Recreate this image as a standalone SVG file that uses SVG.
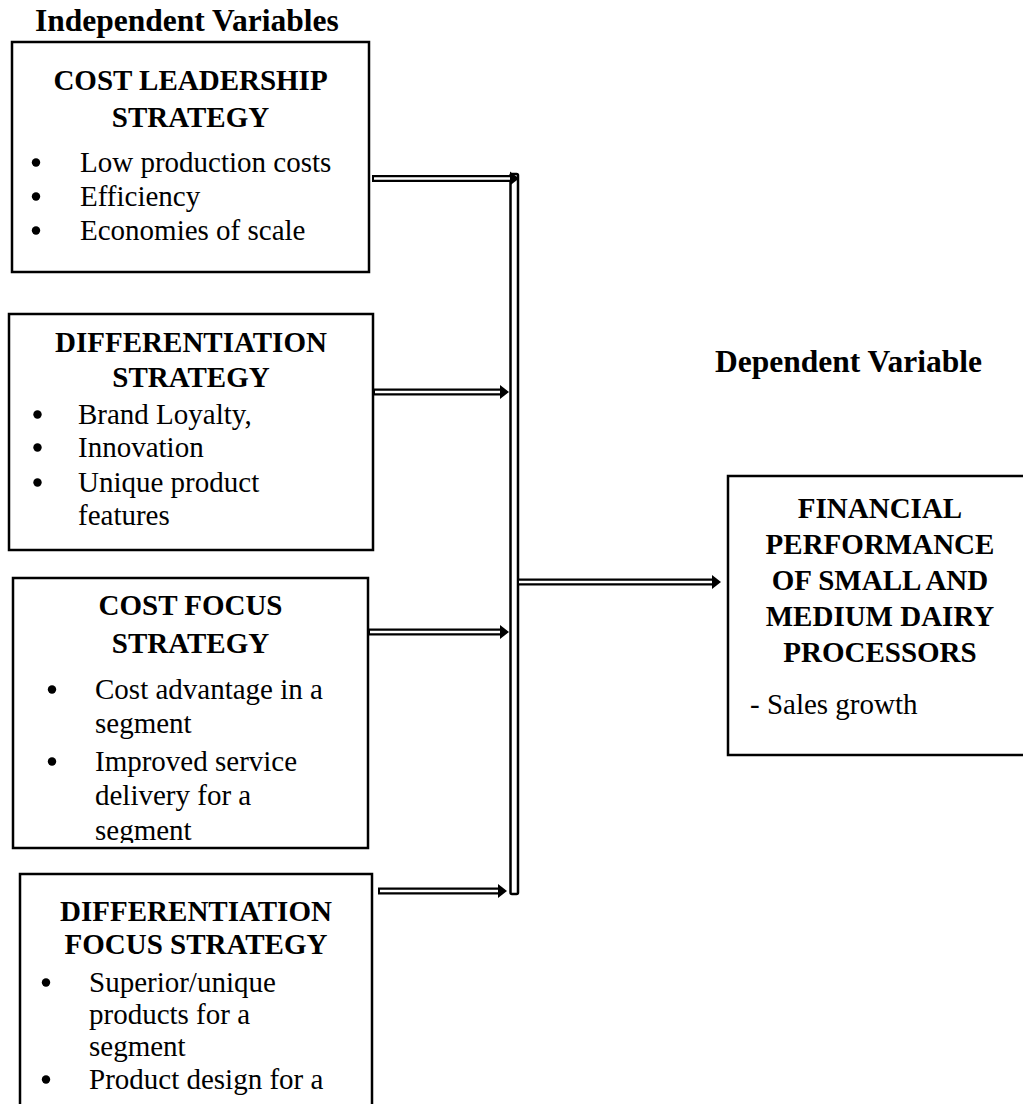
<svg xmlns="http://www.w3.org/2000/svg" width="1023" height="1104" viewBox="0 0 1023 1104">
<style>
text{font-family:"Liberation Serif","Times New Roman",serif;fill:#000}
.hdr{font-size:31.5px;font-weight:bold}
.h{font-size:29px;font-weight:bold;text-anchor:middle}
.t{font-size:29px}
.box{fill:#fff;stroke:#000;stroke-width:2.5}
.ao{stroke:#000;stroke-width:7;fill:none}
.ai{stroke:#fff;stroke-width:2.5;fill:none}
.bar{fill:#fff;stroke:#000;stroke-width:2.5}
.b{fill:#000}
</style>
<defs>
<marker id="ah" markerUnits="userSpaceOnUse" markerWidth="10" markerHeight="16" refX="0" refY="8" orient="auto">
<path d="M0,1 L9,8 L0,15 Z" fill="#000"/>
</marker>
<clipPath id="c3"><rect x="13" y="578" width="355" height="265"/></clipPath>
</defs>
<rect width="1023" height="1104" fill="#fff"/>

<text class="hdr" x="35" y="31">Independent Variables</text>
<text class="hdr" x="715" y="372">Dependent Variable</text>

<g id="connectors">
<rect class="bar" x="510.5" y="174" width="7.5" height="720" rx="1.5"/>
<g>
<line class="ao" x1="372" y1="178.5" x2="510" y2="178.5" marker-end="url(#ah)"/>
<line class="ai" x1="374" y1="178.5" x2="510" y2="178.5"/>
</g>
<g>
<line class="ao" x1="373" y1="392" x2="500" y2="392" marker-end="url(#ah)"/>
<line class="ai" x1="375" y1="392" x2="500" y2="392"/>
</g>
<g>
<line class="ao" x1="368" y1="632" x2="500" y2="632" marker-end="url(#ah)"/>
<line class="ai" x1="370" y1="632" x2="500" y2="632"/>
</g>
<g>
<line class="ao" x1="378" y1="891" x2="498" y2="891" marker-end="url(#ah)"/>
<line class="ai" x1="380" y1="891" x2="498" y2="891"/>
</g>
<g>
<line class="ao" x1="519" y1="582" x2="712" y2="582" marker-end="url(#ah)"/>
<line class="ai" x1="519" y1="582" x2="712" y2="582"/>
</g>
</g>

<g id="cost-leadership">
<rect class="box" x="12" y="42" width="357" height="230"/>
<text class="h" x="190.5" y="90">COST LEADERSHIP</text>
<text class="h" x="190.5" y="127">STRATEGY</text>
<circle class="b" cx="36" cy="162.5" r="4.2"/><text class="t" x="80" y="172">Low production costs</text>
<circle class="b" cx="36" cy="196.5" r="4.2"/><text class="t" x="80" y="206">Efficiency</text>
<circle class="b" cx="36" cy="230.5" r="4.2"/><text class="t" x="80" y="240">Economies of scale</text>
</g>

<g id="differentiation">
<rect class="box" x="9" y="314" width="364" height="236"/>
<text class="h" x="191" y="352">DIFFERENTIATION</text>
<text class="h" x="191" y="387">STRATEGY</text>
<circle class="b" cx="37.5" cy="414.5" r="4.2"/><text class="t" x="78" y="424">Brand Loyalty,</text>
<circle class="b" cx="37.5" cy="447.5" r="4.2"/><text class="t" x="78" y="457">Innovation</text>
<circle class="b" cx="37.5" cy="482.5" r="4.2"/><text class="t" x="78" y="492">Unique product</text>
<text class="t" x="78" y="525">features</text>
</g>

<g id="cost-focus">
<rect class="box" x="13" y="578" width="355" height="270"/>
<g clip-path="url(#c3)">
<text class="h" x="190.5" y="615">COST FOCUS</text>
<text class="h" x="190.5" y="653">STRATEGY</text>
<circle class="b" cx="52" cy="689.5" r="4.2"/><text class="t" x="95" y="699">Cost advantage in a</text>
<text class="t" x="95" y="733">segment</text>
<circle class="b" cx="52" cy="761.5" r="4.2"/><text class="t" x="95" y="771">Improved service</text>
<text class="t" x="95" y="805">delivery for a</text>
<text class="t" x="95" y="840">segment</text>
</g>
</g>

<g id="differentiation-focus">
<rect class="box" x="20" y="874" width="352" height="240"/>
<text class="h" x="196" y="921">DIFFERENTIATION</text>
<text class="h" x="196" y="954">FOCUS STRATEGY</text>
<circle class="b" cx="46" cy="982.5" r="4.2"/><text class="t" x="89" y="992">Superior/unique</text>
<text class="t" x="89" y="1024">products for a</text>
<text class="t" x="89" y="1056">segment</text>
<circle class="b" cx="46" cy="1079.5" r="4.2"/><text class="t" x="89" y="1089">Product design for a</text>
</g>

<g id="financial-performance">
<rect class="box" x="728" y="476" width="320" height="279"/>
<text class="h" x="880" y="518">FINANCIAL</text>
<text class="h" x="880" y="554">PERFORMANCE</text>
<text class="h" x="880" y="590">OF SMALL AND</text>
<text class="h" x="880" y="626">MEDIUM DAIRY</text>
<text class="h" x="880" y="662">PROCESSORS</text>
<text class="t" x="750" y="714">- Sales growth</text>
</g>
</svg>
